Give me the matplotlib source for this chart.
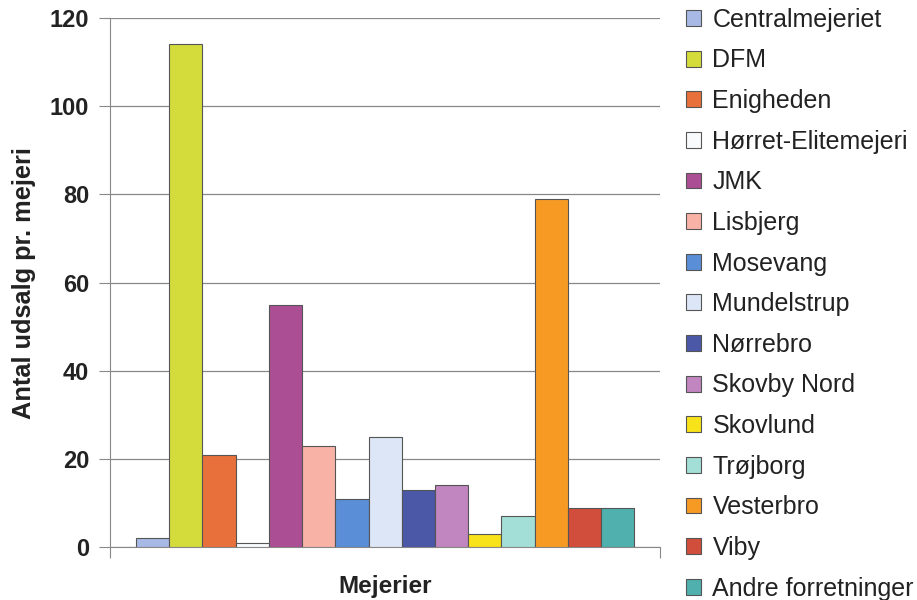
import matplotlib
matplotlib.use("Agg")
import matplotlib.pyplot as plt

plt.rcParams['font.family'] = ['Liberation Sans', 'DejaVu Sans']

mejerier = ["Centralmejeriet", "DFM", "Enigheden", "Hørret-Elitemejeri", "JMK",
            "Lisbjerg", "Mosevang", "Mundelstrup", "Nørrebro", "Skovby Nord",
            "Skovlund", "Trøjborg", "Vesterbro", "Viby", "Andre forretninger"]
udsalg = [2, 114, 21, 1, 55, 23, 11, 25, 13, 14, 3, 7, 79, 9, 9]
farver = ["#A9B9E6", "#D4DC3C", "#E8703A", "#F8FAFC", "#AB4E94",
          "#F9B3A6", "#5A8ED6", "#DDE6F6", "#4B58A8", "#C185C0",
          "#F8E21A", "#A3DFD6", "#F79A24", "#D24E3C", "#4FB0AE"]

fig = plt.figure(figsize=(9.17, 6), dpi=100)
ax = fig.add_axes([0.12, 0.088, 0.6, 0.882])

for i, (navn, v, c) in enumerate(zip(mejerier, udsalg, farver)):
    ax.bar(i, v, width=1.0, color=c, edgecolor="#555555", linewidth=0.8,
           label=navn, zorder=3)

ax.set_xlim(-0.5 - 0.78, len(udsalg) - 0.5 + 0.78)
ax.set_ylim(0, 120)
ax.set_yticks(range(0, 121, 20))
ax.yaxis.grid(True, color="#888888", linewidth=0.9, zorder=0)
ax.set_xticks([-0.5 - 0.78, len(udsalg) - 0.5 + 0.78])
ax.set_xticklabels(["", ""])
ax.tick_params(axis="x", direction="out", length=8, color="#888888")
ax.tick_params(axis="y", direction="out", length=8, color="#888888",
               labelsize=17, pad=7, labelcolor="#222222")
for lbl in ax.get_yticklabels():
    lbl.set_fontweight("bold")

for side in ["top", "right"]:
    ax.spines[side].set_visible(False)
ax.spines["left"].set_color("#888888")
ax.spines["bottom"].set_color("#888888")

ax.set_ylabel("Antal udsalg pr. mejeri", fontsize=18.3, fontweight="bold",
              labelpad=10, color="#222222")
ax.set_xlabel("Mejerier", fontsize=17.5, fontweight="bold", color="#222222")
ax.xaxis.set_label_coords(0.5, -0.052)

fig.legend(loc="upper left", bbox_to_anchor=(0.732, 1.012), frameon=False,
           fontsize=18, handlelength=0.6, handleheight=0.6,
           handletextpad=0.45, labelspacing=0.665, borderaxespad=0.2,
           labelcolor="#222222")

fig.savefig("out.png", dpi=100)
